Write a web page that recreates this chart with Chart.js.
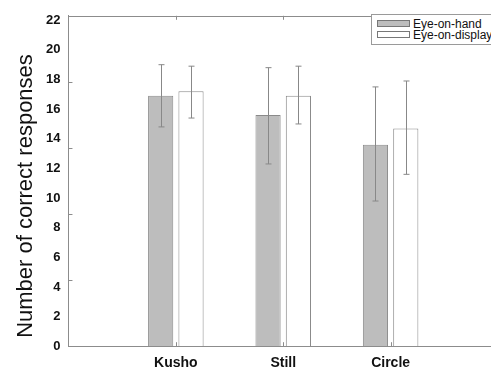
<!DOCTYPE html>
<html>
<head>
<meta charset="utf-8">
<script src="https://cdn.jsdelivr.net/npm/chart.js@4.4.1/dist/chart.umd.min.js"></script>
<style>
  html, body { margin: 0; padding: 0; background: #fff; overflow: hidden; width: 491px; height: 371px; }
  #wrap { position: relative; width: 520px; height: 371px; }
  #legend { position: absolute; left: 371px; top: 14px; width: 140px; height: 29px; border: 1px solid #9a9a9a;
            background: #fff; font: 12px Arial, "Liberation Sans", sans-serif; color: #111; }
  .row { position: absolute; left: 5px; height: 12px; line-height: 12px; white-space: nowrap; }
  .sw { display: inline-block; width: 31px; height: 5px; border: 1px solid #777; vertical-align: middle; margin-right: 3px; margin-top: -2px; }
</style>
</head>
<body>
<div id="wrap">
  <canvas id="myChart" width="520" height="371" style="width:520px;height:371px"></canvas>
  <div id="legend"></div>
</div>
<script>
// categories (blank slots at both ends keep the groups spaced like the original)
const categories = ["", "Kusho", "Still", "Circle", ""];

// Eye-on-hand
const handMeans = [null, 16.9, 15.6, 13.6, null];
const handUpper = [null, 19.0, 18.8, 17.5, null];
const handLower = [null, 14.8, 12.3, 9.8, null];

// Eye-on-display
const displayMeans = [null, 17.2, 16.9, 14.7, null];
const displayUpper = [null, 18.9, 18.9, 17.9, null];
const displayLower = [null, 15.4, 15.0, 11.6, null];

const seriesLabels = ["Eye-on-hand", "Eye-on-display"];
const seriesColors = ["#bdbdbd", "#ffffff"];

// tick labels on the y axis
const yTickValues = [0, 2, 4, 6, 8, 10, 12, 14, 16, 18, 20, 22];
// small inner tick marks of the original frame (0-25 scale)
const frameMarks = [5, 10, 15, 20];

const lineColor = "#8c8c8c";

const errorBars = {
  id: "errorBars",
  afterDatasetsDraw(chart) {
    const ctx = chart.ctx;
    const y = chart.scales.y;
    const bounds = [[handUpper, handLower], [displayUpper, displayLower]];
    ctx.save();
    ctx.strokeStyle = "#888";
    ctx.lineWidth = 1;
    bounds.forEach((b, i) => {
      const meta = chart.getDatasetMeta(i);
      meta.data.forEach((bar, j) => {
        if (b[0][j] == null) return;
        const x = Math.round(bar.x) + 0.5;
        const top = y.getPixelForValue(b[0][j]);
        const bot = y.getPixelForValue(b[1][j]);
        ctx.beginPath();
        ctx.moveTo(x, top); ctx.lineTo(x, bot);
        ctx.moveTo(x - 3, top); ctx.lineTo(x + 3, top);
        ctx.moveTo(x - 3, bot); ctx.lineTo(x + 3, bot);
        ctx.stroke();
      });
    });
    ctx.restore();
  }
};

const frame = {
  id: "frame",
  afterDraw(chart) {
    const ctx = chart.ctx;
    const a = chart.chartArea;
    const xs = chart.scales.x;
    const ym = chart.scales.yMarks;
    ctx.save();
    ctx.strokeStyle = lineColor;
    ctx.lineWidth = 1;
    ctx.beginPath();
    // top border
    ctx.moveTo(a.left, Math.round(a.top) + 0.5);
    ctx.lineTo(a.right, Math.round(a.top) + 0.5);
    // inward ticks at category centres, bottom and top
    for (let i = 1; i < categories.length - 1; i++) {
      const x = Math.round(xs.getPixelForValue(i)) + 0.5;
      ctx.moveTo(x, a.bottom); ctx.lineTo(x, a.bottom - 4);
      ctx.moveTo(x, a.top); ctx.lineTo(x, a.top + 4);
    }
    // inward ticks on the left axis
    frameMarks.forEach(v => {
      const yy = Math.round(ym.getPixelForValue(v)) + 0.5;
      ctx.moveTo(a.left, yy); ctx.lineTo(a.left + 4, yy);
    });
    ctx.stroke();

    // y axis title
    ctx.fillStyle = "#111";
    ctx.font = "22px Arial, 'Liberation Sans', sans-serif";
    ctx.textAlign = "center";
    ctx.textBaseline = "middle";
    ctx.translate(a.left - 43, (a.top + a.bottom) / 2 + 15);
    ctx.rotate(-Math.PI / 2);
    ctx.fillText("Number of correct responses", 0, 0);
    ctx.restore();
  }
};

new Chart("myChart", {
  type: "bar",
  data: {
    labels: categories,
    datasets: [
      {
        label: seriesLabels[0],
        data: handMeans,
        backgroundColor: seriesColors[0],
        borderColor: "#8a8a8a",
        borderWidth: 1,
        categoryPercentage: 0.565,
        barPercentage: 0.83,
      },
      {
        label: seriesLabels[1],
        data: displayMeans,
        backgroundColor: seriesColors[1],
        borderColor: "#8a8a8a",
        borderWidth: 1,
        categoryPercentage: 0.565,
        barPercentage: 0.83,
      },
    ],
  },
  options: {
    responsive: false,
    animation: false,
    devicePixelRatio: 1,
    layout: { padding: { left: 38, top: 11, right: 22, bottom: -10 } },
    plugins: {
      legend: { display: false },
      tooltip: { enabled: false },
    },
    scales: {
      x: {
        offset: false,
        grid: { display: false, drawTicks: false },
        border: { color: lineColor },
        ticks: {
          padding: 9,
          color: "#111",
          font: { family: "Arial, 'Liberation Sans', sans-serif", size: 14, weight: "bold" },
          autoSkip: false,
          maxRotation: 0,
        },
      },
      y: {
        min: 0,
        max: 22.3,
        afterBuildTicks: (axis) => {
          axis.ticks = yTickValues.map(v => ({ value: v }));
        },
        grid: { display: false, drawTicks: false },
        border: { color: lineColor },
        ticks: {
          padding: 8,
          color: "#111",
          font: { family: "Arial, 'Liberation Sans', sans-serif", size: 13, weight: "bold" },
        },
      },
      yMarks: {
        display: false,
        min: 0,
        max: 25,
      },
    },
  },
  plugins: [errorBars, frame],
});

// legend box
const legend = document.getElementById("legend");
seriesLabels.forEach((name, i) => {
  const row = document.createElement("div");
  row.className = "row";
  row.style.top = (3 + i * 11) + "px";
  row.innerHTML = '<span class="sw" style="background:' + seriesColors[i] + '"></span>' + name;
  legend.appendChild(row);
});
</script>
</body>
</html>
